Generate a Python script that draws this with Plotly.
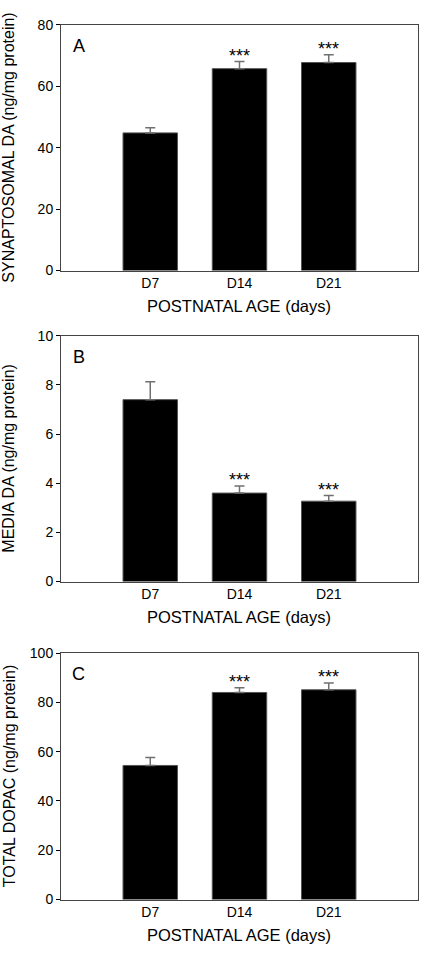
import plotly.graph_objects as go

categories = ["D7", "D14", "D21"]
cat_pos = [1, 2, 3]

synaptosomal_da = [44.8, 65.7, 67.7]
synaptosomal_da_err = [1.7, 2.3, 2.5]

media_da = [7.4, 3.6, 3.27]
media_da_err = [0.73, 0.29, 0.23]

total_dopac = [54.4, 84.0, 85.1]
total_dopac_err = [3.2, 1.9, 2.7]

panel_letters = ["A", "B", "C"]
y_titles = ["SYNAPTOSOMAL DA (ng/mg protein)", "MEDIA DA (ng/mg protein)", "TOTAL DOPAC (ng/mg protein)"]
x_title = "POSTNATAL AGE (days)"
y_ranges = [[0, 80], [0, 10], [0, 100]]
y_dticks = [20, 2, 20]
sig_marks = [["", "***", "***"], ["", "***", "***"], ["", "***", "***"]]

values = [synaptosomal_da, media_da, total_dopac]
errors = [synaptosomal_da_err, media_da_err, total_dopac_err]

W, H = 422, 958
x_left, x_right = 61, 418
# panel pixel tops/bottoms
panels_px = [(17, 267), (333.3, 583.3), (656, 906.7)]

FONT = "Liberation Sans, Arial, sans-serif"

fig = go.Figure()
for i in range(3):
    ax = "" if i == 0 else str(i + 1)
    fig.add_trace(go.Bar(
        x=cat_pos, y=values[i],
        width=0.61,
        marker=dict(color="black", line=dict(color="#555555", width=1)),
        error_y=dict(type="data", array=errors[i], arrayminus=[0, 0, 0], symmetric=False,
                     color="#707070", thickness=1.5, width=5),
        xaxis="x" + ax, yaxis="y" + ax, showlegend=False, hoverinfo="skip",
    ))
    top, bot = panels_px[i]
    ydom = [1 - bot / H, 1 - top / H]
    axis_common = dict(showline=True, linecolor="#444444", linewidth=1, mirror=True,
                       showgrid=False, zeroline=False)
    fig.update_layout(**{
        "xaxis" + ax: dict(domain=[x_left / W, x_right / W], range=[0, 4],
                           tickvals=cat_pos, ticktext=categories, ticks="",
                           tickfont=dict(size=14, color="black", family=FONT),
                           anchor="y" + ax, **axis_common),
        "yaxis" + ax: dict(domain=ydom, range=y_ranges[i], dtick=y_dticks[i], tick0=0,
                           ticks="outside", ticklen=4, tickcolor="black",
                           tickfont=dict(size=14, color="black", family=FONT),
                           anchor="x" + ax, **axis_common),
    })
    # panel letter
    fig.add_annotation(xref="x" + ax + " domain", yref="y" + ax + " domain",
                       x=0.05, y=0.915, text=panel_letters[i], showarrow=False,
                       xanchor="center", yanchor="middle",
                       font=dict(size=18, color="black", family=FONT))
    # significance marks
    for j in range(3):
        if sig_marks[i][j]:
            fig.add_annotation(xref="x" + ax, yref="y" + ax,
                               x=cat_pos[j], y=values[i][j] + errors[i][j],
                               text=sig_marks[i][j], showarrow=False,
                               xanchor="center", yanchor="middle", yshift=6,
                               font=dict(size=18, color="black", family=FONT))
    # y title
    fig.add_annotation(xref="paper", yref="paper", x=9 / W, y=1 - (top + bot) / 2 / H,
                       text=y_titles[i], textangle=-90, showarrow=False,
                       xanchor="center", yanchor="middle",
                       font=dict(size=16, color="black", family=FONT))
    # x title
    fig.add_annotation(xref="paper", yref="paper", x=((x_left + x_right) / 2 - 0) / W,
                       y=1 - (bot + 36) / H, text=x_title, showarrow=False,
                       xanchor="center", yanchor="middle",
                       font=dict(size=16.5, color="black", family=FONT))

fig.update_layout(width=W, height=H, margin=dict(l=0, r=0, t=0, b=0),
                  paper_bgcolor="white", plot_bgcolor="white",
                  font=dict(family=FONT, color="black"))

fig.write_html("out.html", config={"displayModeBar": False},
               post_script="document.body.style.margin='0';document.body.style.overflow='hidden';")
